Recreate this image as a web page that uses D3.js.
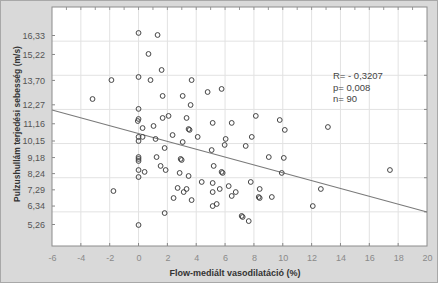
<!DOCTYPE html>
<html>
<head>
<meta charset="utf-8">
<script src="https://cdn.jsdelivr.net/npm/d3@7"></script>
<style>
    body { margin: 0; background: #fff; }
    svg { display: block; font-family: "Liberation Sans", Arial, sans-serif; }
</style>
</head>
<body>
<div id="chart"></div>
<script>
// measured values (FMD %, PWV m/s)
const fmd = [0, 1.32, 0.69, 1.60, -1.88, 0, 0.83, 3.68, 4.79, 5.76,
    -3.19, 1.67, 3.06, 3.61, 0, 0, -0.05, 1.67, 2.08, 3.33,
    5.14, 6.46, 8.13, 9.79, 10.14, 13.13, 0.28, 1.04, 3.47, 3.54,
    0, 0.28, 0, 1.18, 2.36, 4.10, 6.04, 7.85, 3.06, 5.97,
    7.43, 1.81, 5.07, 0, 0, 1.25, 2.92, 2.99, 9.03, 10.07,
    0, 0.42, 0, 1.53, 1.88, 2.85, 3.47, 5.21, 5.76, 5.83,
    9.93, 4.38, 5.14, 7.78, 2.71, 3.13, 3.33, 5.14, 5.63, 6.25,
    6.74, 6.46, 8.40, 8.33, 8.40, 9.24, 2.43, 3.68, 5.14, 5.42,
    1.81, 7.15, 7.22, 7.64, -1.74, 0, 17.43, 12.64, 12.08, 0];
const pwv = [16.48, 16.36, 15.25, 14.31, 13.72, 13.90, 13.72, 13.72, 13.02, 13.20,
    12.61, 12.79, 12.79, 12.26, 12.03, 11.44, 11.32, 11.50, 11.62, 11.50,
    11.21, 11.21, 11.62, 11.38, 10.80, 10.97, 10.91, 11.03, 10.85, 10.80,
    10.39, 10.39, 10.15, 10.27, 10.50, 10.39, 10.27, 10.39, 10.09, 9.92,
    9.86, 9.74, 9.62, 9.21, 8.98, 9.21, 9.10, 9.04, 9.21, 9.16,
    8.45, 8.34, 8.04, 8.69, 8.45, 8.28, 8.10, 8.69, 8.34, 8.28,
    8.28, 7.75, 7.69, 7.75, 7.40, 7.16, 7.34, 7.16, 7.34, 7.51,
    7.16, 6.93, 7.34, 6.87, 6.81, 6.87, 6.81, 6.69, 6.34, 6.46,
    5.93, 5.76, 5.70, 5.46, 7.22, 5.23, 8.45, 7.34, 6.34, 9.10];

const xTicks = [-6, -4, -2, 0, 2, 4, 6, 8, 10, 12, 14, 16, 18, 20];
const yTicks = [16.33, 15.22, 13.70, 12.27, 11.16, 10.15, 9.18, 8.24, 7.29, 6.34, 5.26];
const yGrid = [6, 8, 10, 12, 14, 16];
const fitX = [-6, 20];
const fitY = [11.97, 5.99];
const stats = ["R= - 0,3207", "p= 0,008", "n= 90"];

const width = 438, height = 283;
const margin = {top: 7, right: 11, bottom: 37, left: 52};

const svg = d3.select("#chart")
    .append("svg")
    .attr("width", width)
    .attr("height", height);

svg.append("rect")
    .attr("x", 0.5).attr("y", 0.5)
    .attr("width", width - 1).attr("height", height - 1)
    .attr("fill", "#d9d9d9")
    .attr("stroke", "#a8a8a8");

const x = d3.scaleLinear().domain([-6, 20]).range([margin.left, width - margin.right]);
const y = d3.scaleLinear().domain([4, 18]).range([height - margin.bottom, margin.top]);

svg.append("rect")
    .attr("x", x(-6)).attr("y", y(18))
    .attr("width", x(20) - x(-6)).attr("height", y(4) - y(18))
    .attr("fill", "#fff");

// grid
svg.append("g").selectAll("line").data(xTicks.slice(1, -1)).enter().append("line")
    .attr("x1", d => x(d)).attr("x2", d => x(d))
    .attr("y1", y(4)).attr("y2", y(18))
    .attr("stroke", "#e2e2e2");
svg.append("g").selectAll("line").data(yGrid).enter().append("line")
    .attr("x1", x(-6)).attr("x2", x(20))
    .attr("y1", d => y(d)).attr("y2", d => y(d))
    .attr("stroke", "#e2e2e2");

// axes
const xAxis = d3.axisBottom(x).tickValues(xTicks).tickSize(0).tickPadding(9)
    .tickFormat(d => String(d));
const gx = svg.append("g")
    .attr("transform", `translate(0,${y(4)})`)
    .call(xAxis);
gx.select(".domain").remove();
gx.selectAll("text").attr("fill", "#8a8a8a").style("font-size", "9px");

const yAxis = d3.axisLeft(y).tickValues(yTicks).tickSize(0).tickPadding(7)
    .tickFormat(d => d.toFixed(2).replace(".", ","));
const gy = svg.append("g")
    .attr("transform", `translate(${x(-6)},0)`)
    .call(yAxis);
gy.select(".domain").remove();
gy.selectAll("text").attr("fill", "#555").style("font-size", "9px");

// small inner ticks
svg.append("g").selectAll("line").data(yTicks).enter().append("line")
    .attr("x1", x(-6)).attr("x2", x(-6) + 3)
    .attr("y1", d => y(d)).attr("y2", d => y(d))
    .attr("stroke", "#888");
svg.append("g").selectAll("line").data(yGrid).enter().append("line")
    .attr("x1", x(20) - 3).attr("x2", x(20))
    .attr("y1", d => y(d)).attr("y2", d => y(d))
    .attr("stroke", "#888");
svg.append("g").selectAll("line").data(d3.range(-5, 20)).enter().append("line")
    .attr("x1", d => x(d)).attr("x2", d => x(d))
    .attr("y1", y(18)).attr("y2", y(18) + 3)
    .attr("stroke", "#999");
svg.append("g").selectAll("line").data(xTicks.slice(1, -1)).enter().append("line")
    .attr("x1", d => x(d)).attr("x2", d => x(d))
    .attr("y1", y(4) - 3).attr("y2", y(4))
    .attr("stroke", "#888");

// frame
svg.append("rect")
    .attr("x", x(-6)).attr("y", y(18))
    .attr("width", x(20) - x(-6)).attr("height", y(4) - y(18))
    .attr("fill", "none")
    .attr("stroke", "#8c8c8c");

// regression line
svg.append("line")
    .attr("x1", x(fitX[0])).attr("y1", y(fitY[0]))
    .attr("x2", x(fitX[1])).attr("y2", y(fitY[1]))
    .attr("stroke", "#7a7a7a")
    .attr("stroke-width", 1.1);

// points
svg.append("g").selectAll("circle").data(d3.zip(fmd, pwv)).enter().append("circle")
    .attr("cx", d => x(d[0]))
    .attr("cy", d => y(d[1]))
    .attr("r", 2.4)
    .attr("fill", "none")
    .attr("stroke", "#444")
    .attr("stroke-width", 1);

// stats text
svg.append("g").selectAll("text").data(stats).enter().append("text")
    .attr("x", 333)
    .attr("y", (d, i) => 79 + i * 11.5)
    .attr("fill", "#444")
    .style("font-size", "9.5px")
    .text(d => d);

// axis titles
svg.append("text")
    .attr("x", 235)
    .attr("y", 276)
    .attr("text-anchor", "middle")
    .attr("font-weight", "bold")
    .attr("fill", "#333")
    .style("font-size", "9px")
    .text("Flow-mediált vasodilatáció (%)");

svg.append("text")
    .attr("transform", `translate(20,124) rotate(-90)`)
    .attr("text-anchor", "middle")
    .attr("font-weight", "bold")
    .attr("fill", "#333")
    .style("font-size", "8.5px")
    .text("Pulzushullám terjedési sebesség (m/s)");
</script>
</body>
</html>
